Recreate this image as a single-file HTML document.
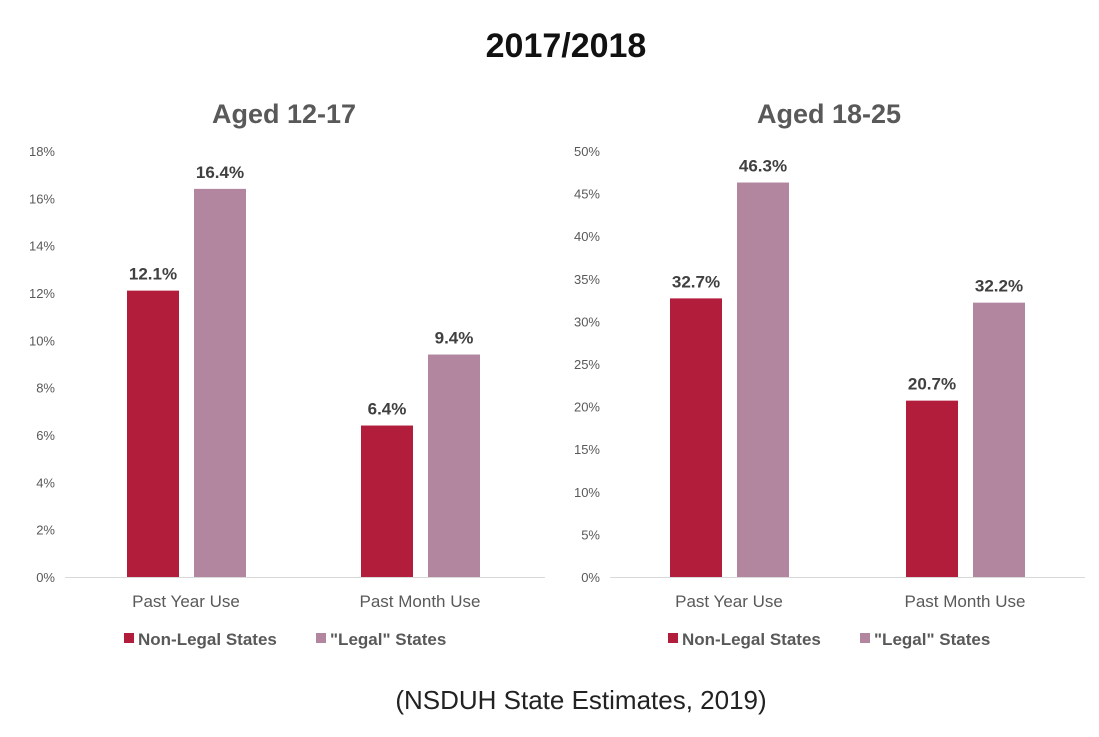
<!DOCTYPE html>
<html><head><meta charset="utf-8"><style>
body{margin:0;background:#fff;}
svg text{font-family:"Liberation Sans",sans-serif;}
</style></head><body>
<svg id="c" width="1099" height="732">
<text x="566" y="57" text-anchor="middle" font-size="34" font-weight="bold" fill="#111">2017/2018</text>
<text x="581" y="709" text-anchor="middle" font-size="26" fill="#222">(NSDUH State Estimates, 2019)</text>
</svg>
<script>
const categories = ["Past Year Use", "Past Month Use"];
const seriesNames = ["Non-Legal States", "\"Legal\" States"];
const leftNonLegal = [12.1, 6.4];
const leftLegal = [16.4, 9.4];
const rightNonLegal = [32.7, 20.7];
const rightLegal = [46.3, 32.2];
const leftTicks = [0, 2, 4, 6, 8, 10, 12, 14, 16, 18];
const rightTicks = [0, 5, 10, 15, 20, 25, 30, 35, 40, 45, 50];
const colors = ["#b21d3b", "#b2869e"];
const svg = document.getElementById('c');
const NS = "http://www.w3.org/2000/svg";
function mk(tag, attrs, txt){const e=document.createElementNS(NS,tag);for(const k in attrs)e.setAttribute(k,attrs[k]);if(txt!==undefined)e.textContent=txt;svg.appendChild(e);return e;}
function panel(id, title, titleX, x0, x1, centers, ticks, s1, s2, legX){
  const top=151, base=577, max=ticks[ticks.length-1];
  const y=v=>base-(v/max)*(base-top);
  let e=mk('text',{x:titleX,y:123,'text-anchor':'middle','font-size':27,'font-weight':'bold',fill:'#595959'},title);
  
  
  ticks.forEach(t=>{
    const tl=mk('text',{x:x0-10,y:y(t)+5,'text-anchor':'end','font-size':13,fill:'#595959'},t+'%');
    
    
  });
  const ax=mk('line',{x1:x0,x2:x1,y1:base+0.5,y2:base+0.5,stroke:'#d9d9d9','stroke-width':1});
  
  
  categories.forEach((c,i)=>{
    const cx=centers[i];
    [s1,s2].forEach((s,j)=>{
      const bx=j===0?cx-59:cx+8;
      const r=mk('rect',{x:bx,y:y(s[i]),width:52,height:base-y(s[i]),fill:colors[j]});
      
      
      const l=mk('text',{x:bx+26,y:y(s[i])-11,'text-anchor':'middle','font-size':17,'font-weight':'bold',fill:'#404040'},s[i].toFixed(1)+'%');
      
      
    });
    const cl=mk('text',{x:cx,y:607,'text-anchor':'middle','font-size':17,fill:'#595959'},c);
    
    
  });
  seriesNames.forEach((n,j)=>{
    const lx=legX[j];
    const sq=mk('rect',{x:lx,y:633,width:10,height:10,fill:colors[j]});
    
    
    const lt=mk('text',{x:lx+14,y:645,'font-size':17,'font-weight':'bold',fill:'#595959'},n);
    
    
  });
}
panel('left-chart','Aged 12-17',284,65,545,[186,420],leftTicks,leftNonLegal,leftLegal,[124,316]);
panel('right-chart','Aged 18-25',829,610,1085,[729,965],rightTicks,rightNonLegal,rightLegal,[668,860]);
</script>
</body></html>
